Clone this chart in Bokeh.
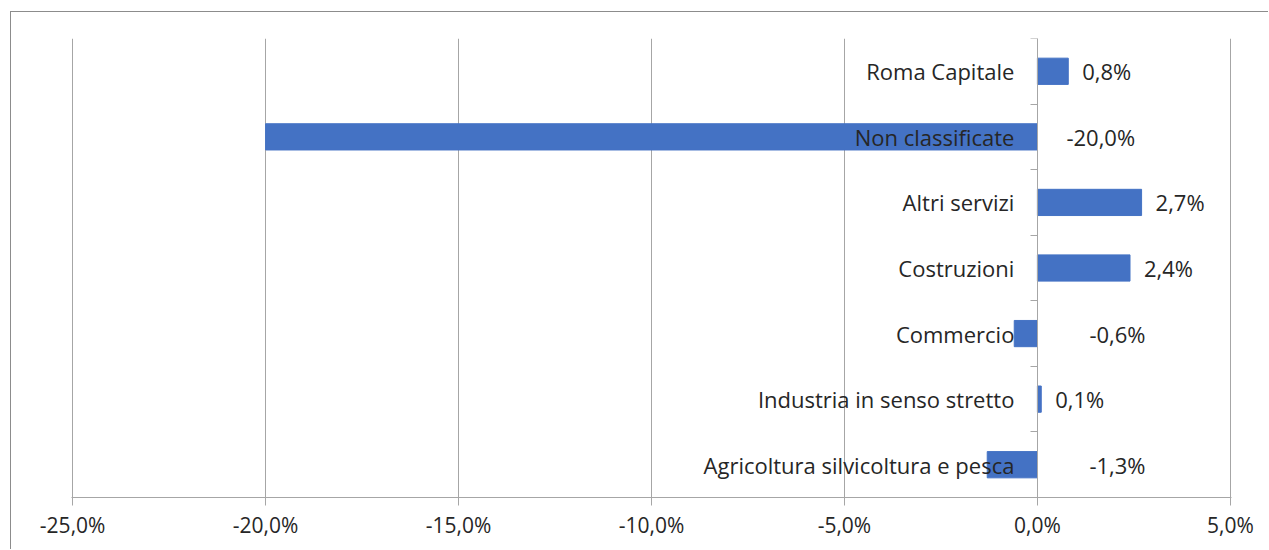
from bokeh.plotting import figure
from bokeh.models import FixedTicker, ColumnDataSource, CustomJSTickFormatter, Range1d
from bokeh.core.properties import value
from bokeh.embed import file_html
from bokeh.resources import INLINE

categories = ["Agricoltura silvicoltura e pesca", "Industria in senso stretto", "Commercio",
              "Costruzioni", "Altri servizi", "Non classificate", "Roma Capitale"]
values = [-1.3, 0.1, -0.6, 2.4, 2.7, -20.0, 0.8]
value_labels = ["-1,3%", "0,1%", "-0,6%", "2,4%", "2,7%", "-20,0%", "0,8%"]
x_ticks = [-25, -20, -15, -10, -5, 0, 5]

FONT = "Open Sans"
GRID = "#a6a6a6"
TXT = "#262626"
BAR = "#4472C4"
FS = "22px"

n = len(categories)
ypos = [i + 0.5 for i in range(n)]
# negative labels are pushed to the right of the axis in the original
label_x = [v if v > 0 else 0 for v in values]
label_dx = [52 if -5 < v < 0 else (29 if v <= -5 else 14) for v in values]

src = ColumnDataSource(dict(y=ypos, v=values, cat=categories, lab=value_labels,
                            lx=label_x, ldx=label_dx))

pad = 0.03
p = figure(width=1258, height=538, x_range=Range1d(-25 - pad, 5 + pad), y_range=(0, n),
           output_backend="svg", toolbar_location=None,
           min_border_left=60, min_border_right=38, min_border_top=26, min_border_bottom=53)
p.styles = {"margin-left": "10px", "margin-top": "11px",
            "border-left": "1px solid #8c8c8c", "border-top": "1px solid #8c8c8c"}
p.outline_line_color = None
p.background_fill_color = "white"

p.hbar(y="y", left=0, right="v", height=0.4, color=BAR, source=src)

p.text(x=0, y="y", text="cat", source=src, x_offset=-23, text_align="right",
       text_baseline="middle", text_font=value(FONT), text_font_size=FS, text_color=TXT)
p.text(x="lx", y="y", text="lab", source=src, x_offset="ldx", text_align="left",
       text_baseline="middle", text_font=value(FONT), text_font_size=FS, text_color=TXT)

# x axis
xa = p.xaxis[0]
xa.ticker = FixedTicker(ticks=x_ticks)
xa.formatter = CustomJSTickFormatter(code="return tick.toFixed(1).replace('.', ',') + '%';")
xa.axis_line_color = GRID
xa.major_tick_line_color = GRID
xa.major_tick_out = 8
xa.major_tick_in = 0
xa.minor_tick_line_color = None
xa.major_label_text_font = FONT
xa.major_label_text_font_size = "21px"
xa.major_label_text_color = TXT
xa.major_label_standoff = 5

# y axis drawn at x = 0 with ticks at the category boundaries
ya = p.yaxis[0]
ya.fixed_location = 0
ya.ticker = FixedTicker(ticks=[], minor_ticks=[i for i in range(n + 1)])
ya.axis_line_color = GRID
ya.minor_tick_line_color = GRID
ya.minor_tick_out = 7
ya.minor_tick_in = 0
ya.major_tick_line_color = None
ya.major_label_text_font_size = "0px"

p.xgrid.ticker = FixedTicker(ticks=x_ticks)
p.xgrid.grid_line_color = GRID
p.ygrid.grid_line_color = None

open("out.html", "w").write(file_html(p, INLINE))
